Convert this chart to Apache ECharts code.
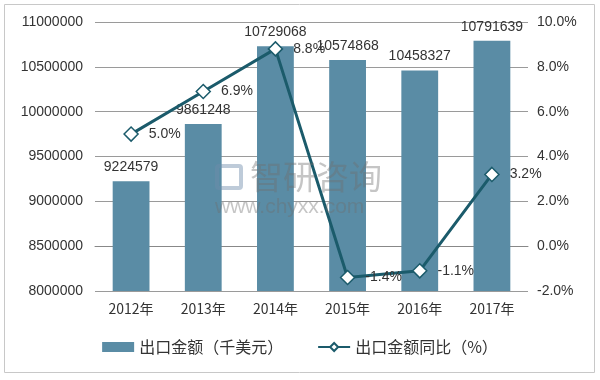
<!DOCTYPE html>
<html><head><meta charset="utf-8">
<script src="https://cdn.jsdelivr.net/npm/echarts@6/dist/echarts.min.js"></script>
<style>html,body{margin:0;padding:0;background:#fff}#c{width:600px;height:380px}</style>
</head><body><div id="c"></div>
<script>
const categories = ['2012年','2013年','2014年','2015年','2016年','2017年'];
const exportValues = [9224579, 9861248, 10729068, 10574868, 10458327, 10791639];
const growthRates = [5.0, 6.9, 8.8, -1.4, -1.1, 3.2];
const leftTicks = {min: 8000000, max: 11000000, interval: 500000};
const rightTicks = {min: -2, max: 10, interval: 2};

const font = 'Liberation Sans, Arial, sans-serif';
const cjk = '"Noto Sans CJK SC", ' + font;
const chart = echarts.init(document.getElementById('c'));
chart.setOption({
  animation: false,
  textStyle: {fontFamily: font},
  graphic: [
    {type: 'rect', shape: {x: 4.5, y: 4.5, width: 590, height: 368}, style: {fill: 'none', stroke: '#c8c8c8', lineWidth: 1}, z: -1},
    {type: 'rect', z: 100, shape: {x: 217, y: 166, width: 24, height: 22, r: 2}, style: {fill: 'none', stroke: 'rgba(110,140,170,0.45)', lineWidth: 4}},
    {type: 'text', left: 250, top: 160, z: 100, style: {text: '智研咨询', fill: 'rgba(110,110,110,0.4)', font: '33px "Noto Sans CJK SC"'}},
    {type: 'text', left: 215, top: 197, z: 100, style: {text: 'www.chyxx.com', fill: 'rgba(110,110,110,0.4)', font: '21px ' + font}}
  ],
  grid: {left: 95, right: 72, top: 22, bottom: 89, containLabel: false},
  legend: {
    bottom: 20, left: 'center', itemGap: 34, itemWidth: 32, itemHeight: 10,
    textStyle: {fontSize: 16, color: '#333', fontFamily: cjk},
    data: [{name: '出口金额（千美元）', icon: 'rect'}, {name: '出口金额同比（%）'}]
  },
  xAxis: {
    type: 'category', data: categories,
    axisLine: {lineStyle: {color: '#888', width: 1}},
    axisTick: {show: false},
    axisLabel: {color: '#333', fontSize: 14, margin: 11, fontFamily: cjk}
  },
  yAxis: [
    {type: 'value', min: leftTicks.min, max: leftTicks.max, interval: leftTicks.interval,
     axisLine: {show: false}, axisTick: {show: false},
     axisLabel: {color: '#333', fontSize: 14, margin: 12, formatter: v => String(v)},
     splitLine: {lineStyle: {color: '#9a9a9a'}}},
    {type: 'value', min: rightTicks.min, max: rightTicks.max, interval: rightTicks.interval,
     axisLine: {show: false}, axisTick: {show: false},
     axisLabel: {color: '#333', fontSize: 14, margin: 9, formatter: v => v.toFixed(1) + '%'},
     splitLine: {show: false}}
  ],
  series: [
    {name: '出口金额（千美元）', type: 'bar', data: exportValues, barWidth: '51%',
     itemStyle: {color: '#5a8ca5'},
     label: {show: true, position: 'top', color: '#333', fontSize: 14, distance: 7}},
    {name: '出口金额同比（%）', type: 'line', yAxisIndex: 1, data: growthRates,
     symbol: 'diamond', symbolSize: 14,
     lineStyle: {color: '#1b5b6b', width: 3},
     itemStyle: {color: '#fff', borderColor: '#1b5b6b', borderWidth: 1.5},
     label: {show: true, position: 'right', distance: 10, color: '#333', fontSize: 14,
       formatter: p => p.value.toFixed(1) + '%'}}
  ]
});
</script></body></html>
